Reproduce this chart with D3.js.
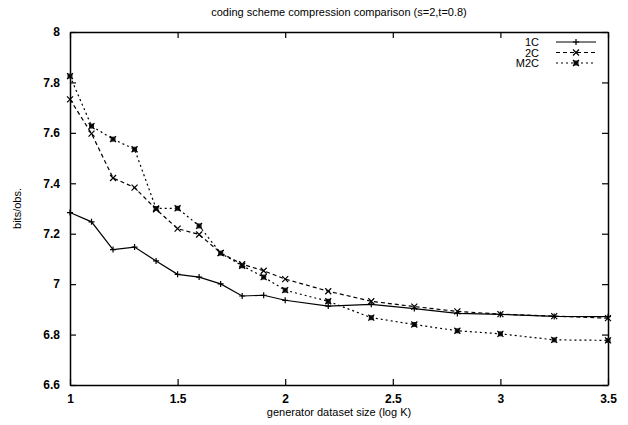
<!DOCTYPE html>
<html>
<head>
<meta charset="utf-8">
<script src="https://cdn.jsdelivr.net/npm/d3@7"></script>
<style>
  body { margin: 0; background: #fff; }
  text { font-family: "Liberation Sans", Arial, sans-serif; fill: #000; }
</style>
</head>
<body>
<script>
(function () {

    //data
    var xVals = [1, 1.1, 1.2, 1.3, 1.4, 1.5, 1.6, 1.7, 1.8, 1.9, 2, 2.2, 2.4, 2.6, 2.8, 3, 3.25, 3.5];
    var oneC = [7.284, 7.247, 7.137, 7.147, 7.092, 7.039, 7.028, 7.001, 6.953, 6.956, 6.936, 6.913, 6.92, 6.903, 6.884, 6.88, 6.872, 6.871];
    var twoC = [7.733, 7.597, 7.421, 7.383, 7.297, 7.22, 7.197, 7.124, 7.079, 7.053, 7.02, 6.972, 6.932, 6.911, 6.892, 6.881, 6.873, 6.865];
    var m2C = [7.825, 7.627, 7.575, 7.535, 7.3, 7.301, 7.231, 7.123, 7.073, 7.028, 6.976, 6.932, 6.867, 6.84, 6.815, 6.803, 6.779, 6.777];
    var seriesNames = ["1C", "2C", "M2C"];
    var xTicks = [1, 1.5, 2, 2.5, 3, 3.5];
    var yTicks = [6.6, 6.8, 7, 7.2, 7.4, 7.6, 7.8, 8];

    var width = 628, height = 425;
    var margin = {left: 70, right: 20, top: 32, bottom: 40};

    var svg = d3.select("body").append("svg")
        .attr("width", width)
        .attr("height", height);

    var x = d3.scaleLinear().domain([1, 3.5]).range([margin.left, width - margin.right]);
    var y = d3.scaleLinear().domain([6.6, 8]).range([height - margin.bottom, margin.top]);

    //title
    svg.append("text")
        .attr("x", (x.range()[0] + x.range()[1]) / 2)
        .attr("y", 16)
        .attr("text-anchor", "middle")
        .style("font-size", "11px")
        .text("coding scheme compression comparison (s=2,t=0.8)");

    //axes, ticks pointing inward on all four sides
    var tickLen = 6;
    svg.append("g")
        .attr("transform", "translate(0," + y(6.6) + ")")
        .call(d3.axisBottom(x).tickValues(xTicks).tickSizeInner(-tickLen).tickSizeOuter(0).tickPadding(9)
            .tickFormat(d3.format("")))
        .call(styleAxis);
    svg.append("g")
        .attr("transform", "translate(0," + y(8) + ")")
        .call(d3.axisTop(x).tickValues(xTicks).tickSizeInner(-tickLen).tickSizeOuter(0).tickFormat(""))
        .call(styleAxis);
    svg.append("g")
        .attr("transform", "translate(" + x(1) + ",0)")
        .call(d3.axisLeft(y).tickValues(yTicks).tickSizeInner(-tickLen).tickSizeOuter(0).tickPadding(10)
            .tickFormat(d3.format("")))
        .call(styleAxis);
    svg.append("g")
        .attr("transform", "translate(" + x(3.5) + ",0)")
        .call(d3.axisRight(y).tickValues(yTicks).tickSizeInner(-tickLen).tickSizeOuter(0).tickFormat(""))
        .call(styleAxis);

    function styleAxis(g) {
        g.select(".domain").attr("stroke", "#000").attr("stroke-width", 1.5);
        g.selectAll(".tick line").attr("stroke", "#000").attr("stroke-width", 1.2);
        g.selectAll(".tick text")
            .style("font-family", "'Liberation Sans', Arial, sans-serif")
            .style("font-size", "12px")
            .style("font-weight", "bold")
            .attr("fill", "#000");
    }

    //axis labels
    svg.append("text")
        .attr("x", (x.range()[0] + x.range()[1]) / 2)
        .attr("y", 416)
        .attr("text-anchor", "middle")
        .style("font-size", "11px")
        .text("generator dataset size (log K)");
    svg.append("text")
        .attr("transform", "translate(21," + y(7.3) + ") rotate(-90)")
        .attr("text-anchor", "middle")
        .style("font-size", "11px")
        .text("bits/obs.");

    //series
    var dashes = [null, "4,3", "2,3"];
    var allSeries = [oneC, twoC, m2C];
    var line = d3.line()
        .x(function (d) { return x(d[0]); })
        .y(function (d) { return y(d[1]); });

    function drawMarker(g, type, cx, cy) {
        var s = 3;
        if (type === 0) {
            g.append("path").attr("d", "M" + (cx - s) + "," + cy + "H" + (cx + s) + "M" + cx + "," + (cy - s) + "V" + (cy + s))
                .attr("stroke", "#000").attr("stroke-width", 1.2);
        } else if (type === 1) {
            g.append("path").attr("d", "M" + (cx - s) + "," + (cy - s) + "L" + (cx + s) + "," + (cy + s) +
                "M" + (cx - s) + "," + (cy + s) + "L" + (cx + s) + "," + (cy - s))
                .attr("stroke", "#000").attr("stroke-width", 1.2);
        } else {
            g.append("rect").attr("x", cx - 2.5).attr("y", cy - 2.5).attr("width", 5).attr("height", 5)
                .attr("fill", "#222");
            g.append("path").attr("d", "M" + (cx - s) + "," + (cy - s) + "L" + (cx + s) + "," + (cy + s) +
                "M" + (cx - s) + "," + (cy + s) + "L" + (cx + s) + "," + (cy - s))
                .attr("stroke", "#000").attr("stroke-width", 1.2);
        }
    }

    allSeries.forEach(function (vals, i) {
        var pts = xVals.map(function (v, k) { return [v, vals[k]]; });
        var g = svg.append("g");
        g.append("path")
            .datum(pts)
            .attr("d", line)
            .attr("fill", "none")
            .attr("stroke", "#000")
            .attr("stroke-width", 1.2)
            .attr("stroke-dasharray", dashes[i]);
        pts.forEach(function (p) { drawMarker(g, i, x(p[0]), y(p[1])); });
    });

    //legend
    var leg = svg.append("g");
    seriesNames.forEach(function (name, i) {
        var ly = 42 + i * 10.5;
        leg.append("text")
            .attr("x", 539).attr("y", ly + 4)
            .attr("text-anchor", "end")
            .style("font-size", "11px")
            .text(name);
        leg.append("path")
            .attr("d", "M556," + ly + "H596")
            .attr("stroke", "#000").attr("stroke-width", 1.2)
            .attr("stroke-dasharray", dashes[i]);
        drawMarker(leg, i, 576, ly);
    });

})();
</script>
</body>
</html>
